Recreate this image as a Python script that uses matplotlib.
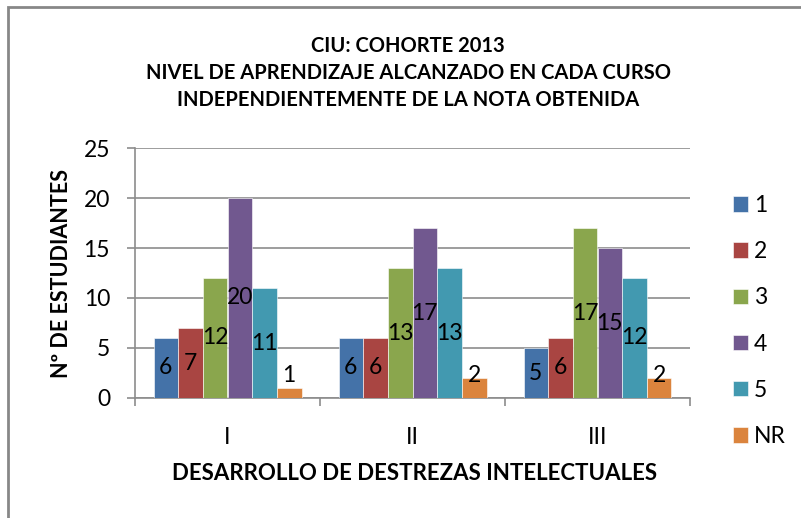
import matplotlib.pyplot as plt
import numpy as np
from matplotlib.patches import Rectangle

plt.rcParams['font.family'] = ['Lato', 'DejaVu Sans']

# data
cursos = ['I', 'II', 'III']
series = ['1', '2', '3', '4', '5', 'NR']
valores = {
    '1': [6, 6, 5],
    '2': [7, 6, 6],
    '3': [12, 13, 17],
    '4': [20, 17, 15],
    '5': [11, 13, 12],
    'NR': [1, 2, 2],
}
colores = ['#4472a8', '#a94542', '#8aa64d', '#71588f', '#4299b0', '#db843d']

titulo = 'CIU: COHORTE 2013\nNIVEL DE APRENDIZAJE ALCANZADO EN CADA CURSO\nINDEPENDIENTEMENTE DE LA NOTA OBTENIDA'
xlabel = 'DESARROLLO DE DESTREZAS INTELECTUALES'
ylabel = 'Nº DE ESTUDIANTES'

fig = plt.figure(figsize=(8.01, 5.18), dpi=100)
ax = fig.add_axes([135/801, 1-398/518, (690-135)/801, (398-148)/518])

x = np.arange(len(cursos))
w = 0.8/len(series)
for i, s in enumerate(series):
    pos = x - 0.4 + w*(i+0.5)
    ax.bar(pos, valores[s], w, color=colores[i], edgecolor='white', linewidth=0.4, label=s, zorder=3)
    for px, v in zip(pos, valores[s]):
        ax.text(px, max(v/2, 2.3), str(v), ha='center', va='center', fontsize=16.5, zorder=4)

ax.set_ylim(0, 25)
ax.set_xlim(-0.5, 2.5)
ax.set_yticks(range(0, 26, 5))
ax.yaxis.grid(True, color='#8c8c8c', linewidth=1.2, zorder=0)
ax.tick_params(axis='y', length=6, width=1.2, color='#8c8c8c', pad=12, labelsize=16.5)

ax.set_xticks([-0.5, 0.5, 1.5, 2.5])
ax.set_xticklabels([])
ax.set_xticks(x, minor=True)
ax.set_xticklabels(cursos, minor=True)
ax.tick_params(axis='x', which='major', length=6, width=1.2, color='#8c8c8c')
ax.tick_params(axis='x', which='minor', length=0, pad=21, labelsize=16.5)

for sp in ['top', 'right']:
    ax.spines[sp].set_visible(False)
for sp in ['left', 'bottom']:
    ax.spines[sp].set_color('#8c8c8c')
    ax.spines[sp].set_linewidth(1.2)

fig.text(408/801, 1-73/518, titulo, ha='center', va='center', fontsize=14.5,
         fontweight='bold', linespacing=1.45)
fig.text(415/801, 1-474/518, xlabel, ha='center', va='center', fontsize=16, fontweight='bold')
fig.text(62/801, 1-273/518, ylabel, ha='center', va='center', rotation=90, fontsize=15.5, fontweight='bold')

fig.legend(loc='center left', bbox_to_anchor=(733/801, 1-321/518), frameon=False,
           fontsize=16.5, handlelength=0.65, handleheight=0.65, handletextpad=0.25,
           labelspacing=1.1, borderpad=0, borderaxespad=0)

# chart border (cropped on right and bottom)
fig.add_artist(Rectangle((8/801, -0.1), 1.2, 1.1 - 7/518, transform=fig.transFigure,
                         fill=False, edgecolor='#878787', linewidth=2))

fig.savefig('out.png', dpi=100)
